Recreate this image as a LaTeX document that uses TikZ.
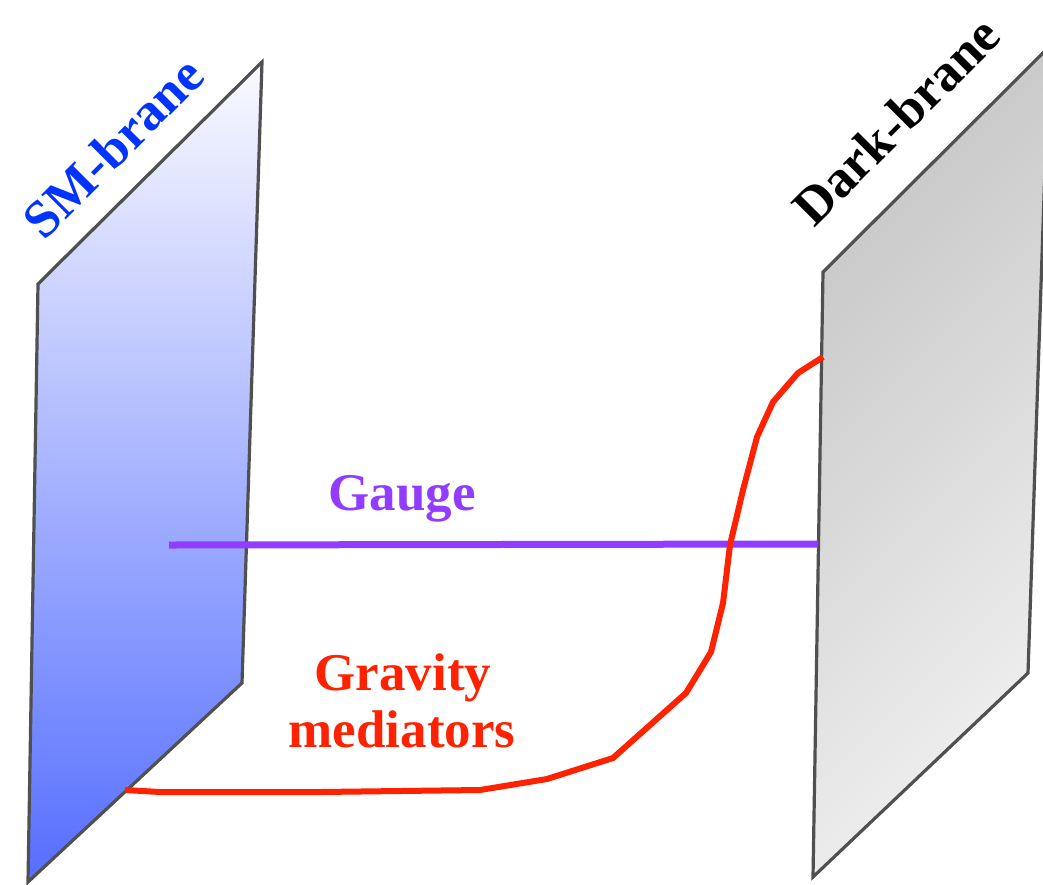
\documentclass[tikz,border=0pt]{standalone}
\usepackage{fontspec}
\setmainfont{Liberation Serif}
\newfontfamily\lblfont{Liberation Serif Bold}
\definecolor{smtext}{RGB}{0,51,255}
\definecolor{smtop}{RGB}{250,250,255}
\definecolor{smbot}{RGB}{85,110,255}
\definecolor{darktop}{RGB}{198,198,198}
\definecolor{darkbot}{RGB}{240,240,240}
\definecolor{edge}{RGB}{80,80,80}
\definecolor{gaugec}{RGB}{145,60,255}
\definecolor{gravc}{RGB}{255,34,0}
\begin{document}
\begin{tikzpicture}[x=1pt,y=-1pt,
  brane/.style={draw=edge, line width=3.2pt, line join=miter},
  lbl/.style={font=\lblfont\fontsize{53}{57}\selectfont, inner sep=0pt},
  gaugeline/.style={draw=gaugec, line width=7pt},
  gravline/.style={draw=gravc, line width=6pt, line join=round}]
\useasboundingbox (0,0) rectangle (1043,884);
\begin{scope}
\clip (0,0) rectangle (1043,884);
\path[brane, top color=smtop, bottom color=smbot] (262,62) -- (38,284) -- (28,882) -- (242,683) -- cycle;
\path[brane, shading=axis, top color=darktop, bottom color=darkbot, shading angle=45] (1049,47) -- (823,272) -- (813,877) -- (1028,673) -- cycle;
\end{scope}
\node[lbl, rotate=45, text=smtext] (smlabel) at (113,147) {SM-brane};
\node[lbl, rotate=45, text=black] (darklabel) at (896,121) {Dark-brane};
\coordinate (gaugeS) at (169,545);
\coordinate (gaugeD) at (818,544);
\draw[gaugeline] (gaugeS) -- (gaugeD);
\node[lbl, text=gaugec, anchor=base] (gaugelabel) at (402,510) {Gauge};
\coordinate (gravS) at (125,790);
\coordinate (gravD) at (823,357);
\draw[gravline] (gravS) -- (160,792) -- (320,792) -- (480,790) -- (547,779) -- (613,758) -- (686,693) -- (711,652) -- (723,603) -- (730,545) -- (743,490) -- (757,437) -- (773,402) -- (798,373) -- (gravD);
\node[lbl, text=gravc, anchor=base] (gravlabelA) at (403,690) {Gravity};
\node[lbl, text=gravc, anchor=base] (gravlabelB) at (402,747) {mediators};
\end{tikzpicture}
\end{document}
